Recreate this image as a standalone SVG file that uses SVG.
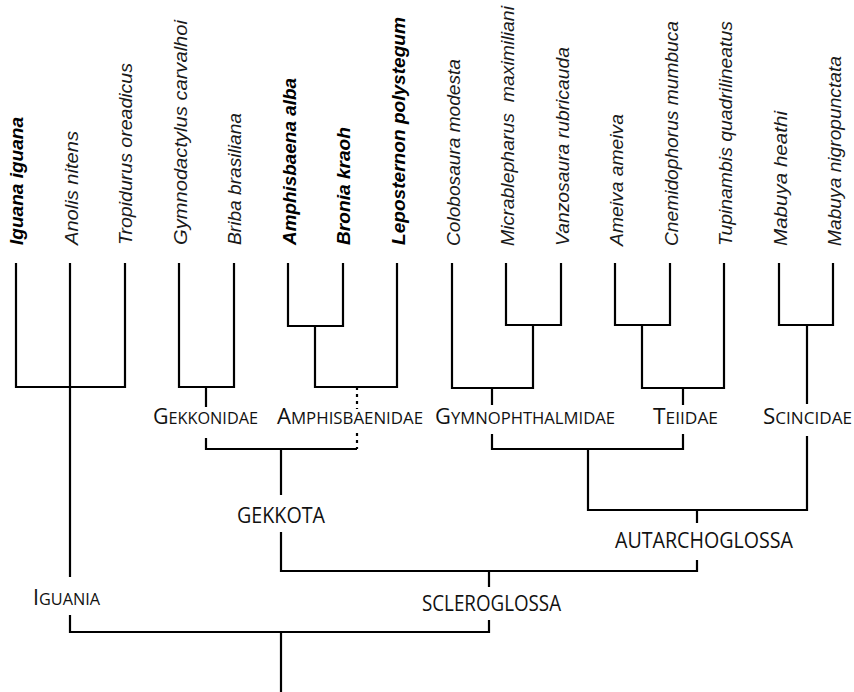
<svg xmlns="http://www.w3.org/2000/svg" width="854" height="692" viewBox="0 0 854 692">
<style>
.bg{fill:#fff}
.ln{fill:none;stroke:#000;stroke-width:2.2;stroke-linecap:butt;stroke-linejoin:miter}
.dot{fill:none;stroke:#000;stroke-width:2.2;stroke-dasharray:3 4}
.sp{font-family:"Liberation Sans",Arial,sans-serif;font-size:19px;font-style:italic;fill:#1a1a1a}
.b{font-weight:bold;fill:#000}
.fam{font-family:"Open Sans","DejaVu Sans",sans-serif;font-size:21px;fill:#111}
.sc{font-size:16px}
.cl{font-family:"Open Sans","DejaVu Sans",sans-serif;font-size:21px;fill:#111}
</style>
<rect class="bg" width="854" height="692"/>
<g id="taxa">
<text class="sp b" transform="translate(23,245) rotate(-90)" textLength="128" lengthAdjust="spacingAndGlyphs">Iguana iguana</text>
<text class="sp" transform="translate(78,245) rotate(-90)" textLength="114" lengthAdjust="spacingAndGlyphs">Anolis nitens</text>
<text class="sp" transform="translate(132,245) rotate(-90)" textLength="182" lengthAdjust="spacingAndGlyphs">Tropidurus oreadicus</text>
<text class="sp" transform="translate(187,245) rotate(-90)" textLength="225" lengthAdjust="spacingAndGlyphs">Gymnodactylus carvalhoi</text>
<text class="sp" transform="translate(241,245) rotate(-90)" textLength="132" lengthAdjust="spacingAndGlyphs">Briba brasiliana</text>
<text class="sp b" transform="translate(296,245) rotate(-90)" textLength="167" lengthAdjust="spacingAndGlyphs">Amphisbaena alba</text>
<text class="sp b" transform="translate(350,245) rotate(-90)" textLength="118" lengthAdjust="spacingAndGlyphs">Bronia kraoh</text>
<text class="sp b" transform="translate(405,245) rotate(-90)" textLength="228" lengthAdjust="spacingAndGlyphs">Leposternon polystegum</text>
<text class="sp" transform="translate(460,246) rotate(-90)" textLength="187" lengthAdjust="spacingAndGlyphs">Colobosaura modesta</text>
<text class="sp" transform="translate(514,246) rotate(-90)" textLength="240" lengthAdjust="spacingAndGlyphs" xml:space="preserve">Micrablepharus  maximiliani</text>
<text class="sp" transform="translate(569,246) rotate(-90)" textLength="199" lengthAdjust="spacingAndGlyphs">Vanzosaura rubricauda</text>
<text class="sp" transform="translate(623,246) rotate(-90)" textLength="132" lengthAdjust="spacingAndGlyphs">Ameiva ameiva</text>
<text class="sp" transform="translate(678,246) rotate(-90)" textLength="225" lengthAdjust="spacingAndGlyphs">Cnemidophorus mumbuca</text>
<text class="sp" transform="translate(732,246) rotate(-90)" textLength="225" lengthAdjust="spacingAndGlyphs">Tupinambis quadrilineatus</text>
<text class="sp" transform="translate(787,246) rotate(-90)" textLength="135" lengthAdjust="spacingAndGlyphs">Mabuya heathi</text>
<text class="sp" transform="translate(841,246) rotate(-90)" textLength="190" lengthAdjust="spacingAndGlyphs">Mabuya nigropunctata</text>
</g>
<g id="connectors">
<path class="ln" d="M16 263V387H125V263M70 263V577M70 615V632H489V620M489 587V571M281 632V692"/>
<path class="ln" d="M179 263V387H234V263M206 387V407M206 438V449H357M281 449V495M281 532V571H697V560M697 523V510"/>
<path class="ln" d="M288 263V326H343V263M315 326V387H397V263"/>
<path class="dot" d="M357 387V409M357 433V449"/>
<path class="ln" d="M452 263V388H533V325M506 263V325H561V263M492 388V405M492 434V449H683V434M683 405V388M615 263V325H670V263M642 325V388H724V263"/>
<path class="ln" d="M588 449V510H807V436M807 404V325M779 263V325H833V263"/>
</g>
<g id="families">
<text class="fam" x="153" y="424" textLength="105" lengthAdjust="spacingAndGlyphs">G<tspan class="sc">EKKONIDAE</tspan></text>
<text class="fam" x="277" y="424" textLength="146" lengthAdjust="spacingAndGlyphs">A<tspan class="sc">MPHISBAENIDAE</tspan></text>
<text class="fam" x="435" y="424" textLength="180" lengthAdjust="spacingAndGlyphs">G<tspan class="sc">YMNOPHTHALMIDAE</tspan></text>
<text class="fam" x="653" y="424" textLength="65" lengthAdjust="spacingAndGlyphs">T<tspan class="sc">EIIDAE</tspan></text>
<text class="fam" x="763" y="424" textLength="89" lengthAdjust="spacingAndGlyphs">S<tspan class="sc">CINCIDAE</tspan></text>
</g>
<g id="clades">
<text class="cl" x="237" y="523" textLength="88" lengthAdjust="spacingAndGlyphs">GEKKOTA</text>
<text class="cl" x="615" y="548" textLength="178" lengthAdjust="spacingAndGlyphs">AUTARCHOGLOSSA</text>
<text class="cl" x="422" y="611" textLength="139" lengthAdjust="spacingAndGlyphs">SCLEROGLOSSA</text>
<text class="fam" x="33" y="605" textLength="67" lengthAdjust="spacingAndGlyphs">I<tspan class="sc">GUANIA</tspan></text>
</g>
</svg>
